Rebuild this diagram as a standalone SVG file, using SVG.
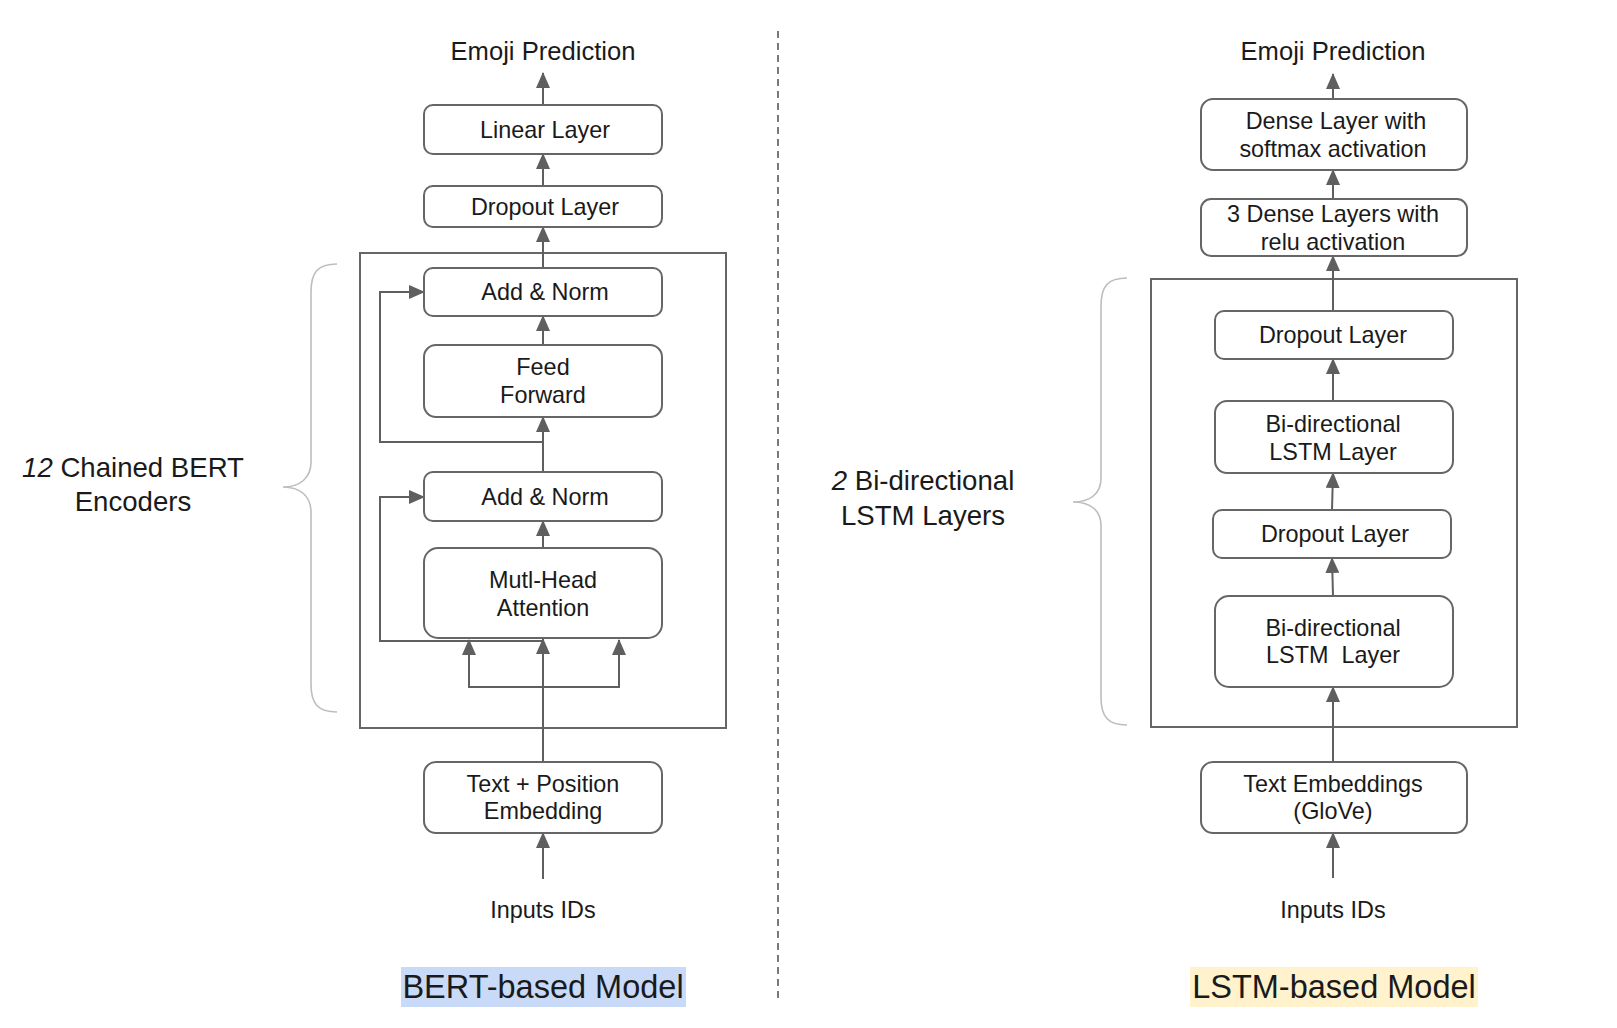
<svg xmlns="http://www.w3.org/2000/svg" width="1617" height="1028" viewBox="0 0 1617 1028">
<style>
  .box { fill: #ffffff; stroke: #666666; stroke-width: 2; }
  .frame { fill: none; stroke: #666666; stroke-width: 2; }
  .t { font-family: "Liberation Sans", Arial, sans-serif; font-size: 23.4px; fill: #1a1a1a; text-anchor: middle; }
  .top { font-size: 25.6px; }
  .side { font-size: 27.6px; }
  .title { font-size: 32.5px; }
  .conn { fill: none; stroke: #5f5f5f; stroke-width: 2; }
  .brace { fill: none; stroke: #bdbdbd; stroke-width: 1.6; }
</style>
<defs>
  <marker id="ah" viewBox="0 0 16 14" refX="15" refY="7" markerWidth="16" markerHeight="14" markerUnits="userSpaceOnUse" orient="auto">
    <path d="M0,0 L16,7 L0,14 Z" fill="#5f5f5f"/>
  </marker>
</defs>
<rect width="1617" height="1028" fill="#ffffff"/>

<!-- divider -->
<line x1="778" y1="31" x2="778" y2="1000" stroke="#7a7a7a" stroke-width="2" stroke-dasharray="7 5"/>

<!-- frames -->
<rect id="bert-frame" class="frame" x="360" y="253" width="366" height="475"/>
<rect id="lstm-frame" class="frame" x="1151" y="279" width="366" height="448"/>

<!-- braces -->
<path class="brace" d="M337,264 C318,264 311,272 311,292 L311,462 C311,478 300,487 283,487 C300,487 311,496 311,512 L311,684 C311,704 318,712 337,712"/>
<path class="brace" d="M1127,278 C1108,278 1101,286 1101,306 L1101,478 C1101,494 1090,502 1073,502 C1090,502 1101,510 1101,526 L1101,697 C1101,717 1108,725 1127,725"/>

<!-- connectors -->
<g id="connectors">
  <!-- BERT -->
  <line class="conn" x1="543" y1="105" x2="543" y2="73" marker-end="url(#ah)"/>
  <line class="conn" x1="543" y1="186" x2="543" y2="154" marker-end="url(#ah)"/>
  <line class="conn" x1="543" y1="268" x2="543" y2="227" marker-end="url(#ah)"/>
  <line class="conn" x1="543" y1="345" x2="543" y2="316" marker-end="url(#ah)"/>
  <line class="conn" x1="543" y1="472" x2="543" y2="417" marker-end="url(#ah)"/>
  <polyline class="conn" points="543,442 380,442 380,292 424,292" marker-end="url(#ah)"/>
  <line class="conn" x1="543" y1="548" x2="543" y2="521" marker-end="url(#ah)"/>
  <polyline class="conn" points="543,641 380,641 380,497 424,497" marker-end="url(#ah)"/>
  <line class="conn" x1="543" y1="762" x2="543" y2="639" marker-end="url(#ah)"/>
  <polyline class="conn" points="543,687 469,687 469,640" marker-end="url(#ah)"/>
  <polyline class="conn" points="543,687 619,687 619,640" marker-end="url(#ah)"/>
  <line class="conn" x1="543" y1="879" x2="543" y2="833" marker-end="url(#ah)"/>
  <!-- LSTM -->
  <line class="conn" x1="1333" y1="99" x2="1333" y2="74" marker-end="url(#ah)"/>
  <line class="conn" x1="1333" y1="199" x2="1333" y2="170" marker-end="url(#ah)"/>
  <line class="conn" x1="1333" y1="311" x2="1333" y2="256" marker-end="url(#ah)"/>
  <line class="conn" x1="1333" y1="401" x2="1333" y2="359" marker-end="url(#ah)"/>
  <line class="conn" x1="1332" y1="510" x2="1333" y2="473" marker-end="url(#ah)"/>
  <line class="conn" x1="1333" y1="596" x2="1332" y2="558" marker-end="url(#ah)"/>
  <line class="conn" x1="1333" y1="762" x2="1333" y2="687" marker-end="url(#ah)"/>
  <line class="conn" x1="1333" y1="878" x2="1333" y2="833" marker-end="url(#ah)"/>
</g>

<!-- BERT nodes -->
<g id="bert-output"><text class="t top" x="543" y="60">Emoji Prediction</text></g>
<g id="bert-linear"><rect class="box" x="424" y="105" width="238" height="49" rx="9"/><text class="t" x="545" y="138">Linear Layer</text></g>
<g id="bert-dropout"><rect class="box" x="424" y="186" width="238" height="41" rx="9"/><text class="t" x="545" y="215">Dropout Layer</text></g>
<g id="bert-addnorm2"><rect class="box" x="424" y="268" width="238" height="48" rx="9"/><text class="t" x="545" y="300">Add &amp; Norm</text></g>
<g id="bert-ff"><rect class="box" x="424" y="345" width="238" height="72" rx="12"/><text class="t" x="543" y="375">Feed</text><text class="t" x="543" y="403">Forward</text></g>
<g id="bert-addnorm1"><rect class="box" x="424" y="472" width="238" height="49" rx="9"/><text class="t" x="545" y="505">Add &amp; Norm</text></g>
<g id="bert-mha"><rect class="box" x="424" y="548" width="238" height="90" rx="14"/><text class="t" x="543" y="588">Mutl-Head</text><text class="t" x="543" y="616">Attention</text></g>
<g id="bert-embed"><rect class="box" x="424" y="762" width="238" height="71" rx="12"/><text class="t" x="543" y="792">Text + Position</text><text class="t" x="543" y="819">Embedding</text></g>
<g id="bert-input"><text class="t" x="543" y="918">Inputs IDs</text></g>
<g id="bert-label"><text class="t side" x="133" y="477"><tspan font-style="italic">12</tspan> Chained BERT</text><text class="t side" x="133" y="511">Encoders</text></g>
<g id="bert-title"><rect x="401" y="967" width="285" height="40" fill="#c9daf8"/><text class="t title" x="543" y="998">BERT-based Model</text></g>

<!-- LSTM nodes -->
<g id="lstm-output"><text class="t top" x="1333" y="60">Emoji Prediction</text></g>
<g id="lstm-dense-softmax"><rect class="box" x="1201" y="99" width="266" height="71" rx="12"/><text class="t" x="1336" y="129">Dense Layer with</text><text class="t" x="1333" y="157">softmax activation</text></g>
<g id="lstm-dense-relu"><rect class="box" x="1201" y="199" width="266" height="57" rx="10"/><text class="t" x="1333" y="222">3 Dense Layers with</text><text class="t" x="1333" y="250">relu activation</text></g>
<g id="lstm-dropout2"><rect class="box" x="1215" y="311" width="238" height="48" rx="9"/><text class="t" x="1333" y="343">Dropout Layer</text></g>
<g id="lstm-bilstm2"><rect class="box" x="1215" y="401" width="238" height="72" rx="12"/><text class="t" x="1333" y="432">Bi-directional</text><text class="t" x="1333" y="460">LSTM Layer</text></g>
<g id="lstm-dropout1"><rect class="box" x="1213" y="510" width="238" height="48" rx="9"/><text class="t" x="1335" y="542">Dropout Layer</text></g>
<g id="lstm-bilstm1"><rect class="box" x="1215" y="596" width="238" height="91" rx="14"/><text class="t" x="1333" y="636">Bi-directional</text><text class="t" x="1333" y="663" xml:space="preserve">LSTM  Layer</text></g>
<g id="lstm-embed"><rect class="box" x="1201" y="762" width="266" height="71" rx="12"/><text class="t" x="1333" y="792">Text Embeddings</text><text class="t" x="1333" y="819">(GloVe)</text></g>
<g id="lstm-input"><text class="t" x="1333" y="918">Inputs IDs</text></g>
<g id="lstm-label"><text class="t side" x="923" y="490"><tspan font-style="italic">2</tspan> Bi-directional</text><text class="t side" x="923" y="525">LSTM Layers</text></g>
<g id="lstm-title"><rect x="1190" y="967" width="288" height="40" fill="#fff2cc"/><text class="t title" x="1334" y="998">LSTM-based Model</text></g>
</svg>
